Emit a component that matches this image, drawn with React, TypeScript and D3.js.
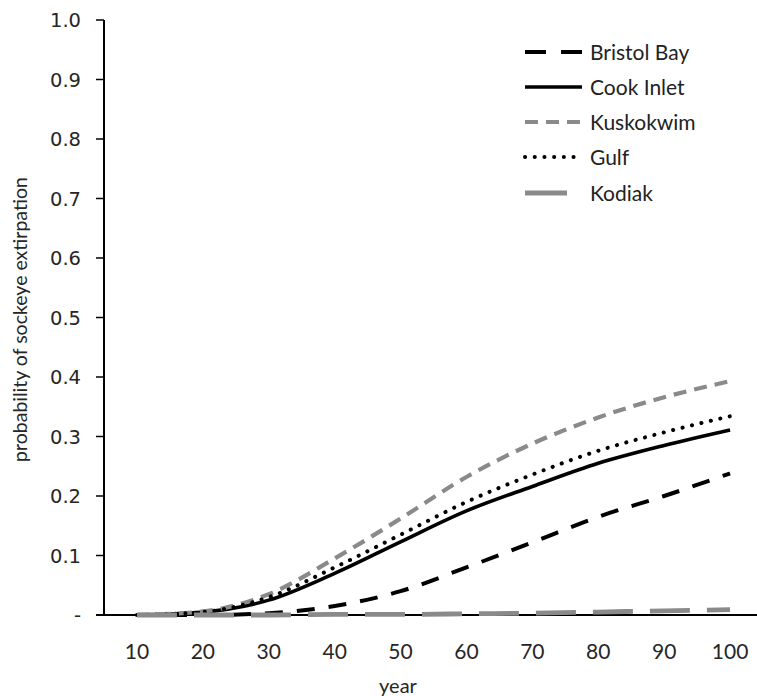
import React from "react";
import * as d3 from "d3";

const years = [10, 20, 30, 40, 50, 60, 70, 80, 90, 100];
const bristolBay = [0, 0, 0.003, 0.015, 0.04, 0.08, 0.122, 0.165, 0.2, 0.238];
const cookInlet = [0, 0.005, 0.025, 0.07, 0.123, 0.175, 0.216, 0.255, 0.285, 0.311];
const kuskokwim = [0, 0.006, 0.035, 0.095, 0.162, 0.232, 0.288, 0.332, 0.366, 0.393];
const gulf = [0, 0.005, 0.03, 0.08, 0.135, 0.19, 0.236, 0.276, 0.307, 0.334];
const kodiak = [0, 0, 0, 0.001, 0.001, 0.002, 0.003, 0.005, 0.007, 0.009];
const yTicks = [0, 0.1, 0.2, 0.3, 0.4, 0.5, 0.6, 0.7, 0.8, 0.9, 1.0];

const seriesNames = ["Bristol Bay", "Cook Inlet", "Kuskokwim", "Gulf", "Kodiak"];
const seriesValues = [bristolBay, cookInlet, kuskokwim, gulf, kodiak];
const styles = [
  { color: "#000", width: 4, dash: "18,14", cap: "butt" },
  { color: "#000", width: 3.6, dash: "", cap: "butt" },
  { color: "#8a8a8a", width: 4.2, dash: "13,8", cap: "butt" },
  { color: "#000", width: 4, dash: "0.1,9.6", cap: "round" },
  { color: "#8a8a8a", width: 4.8, dash: "40,17", cap: "butt" },
];

export default function App() {
  const W = 757, H = 696;
  const x0 = 104, x1 = 763, yTop = 20, yBot = 615;
  const x = d3.scaleBand<number>().domain(years).range([x0, x1]);
  const cx = (v: number) => (x(v) as number) + x.bandwidth() / 2;
  const y = d3.scaleLinear().domain([0, 1]).range([yBot, yTop]);
  const line = d3
    .line<number>()
    .x((_, i) => cx(years[i]))
    .y((d) => y(d))
    .curve(d3.curveMonotoneX);
  const sans = "Lato, 'Open Sans', sans-serif";
  const legendY = [52, 87, 122, 157, 193];
  return (
    <svg width={W} height={H} style={{ position: "absolute", left: 0, top: 0, background: "#fff" }}>
      <rect width={W} height={H} fill="#fff" />
      {/* y axis */}
      <line x1={x0} x2={x0} y1={yTop} y2={yBot} stroke="#000" strokeWidth={2} />
      {yTicks.map((t) => (
        <g key={t}>
          <line x1={x0 - 8} x2={x0} y1={y(t)} y2={y(t)} stroke="#000" strokeWidth={1.5} />
          <text
            x={81}
            y={y(t)}
            dy="0.36em"
            textAnchor="end"
            fontFamily="'DejaVu Sans', sans-serif"
            fontSize={19.5}
            fill="#262626"
          >
            {t === 0 ? "-" : t.toFixed(1)}
          </text>
        </g>
      ))}
      {/* x axis */}
      <line x1={x0 - 8} x2={W} y1={yBot} y2={yBot} stroke="#000" strokeWidth={2} />
      {years.map((yr) => (
        <text key={yr} x={cx(yr)} y={659} textAnchor="middle" fontFamily={sans} fontSize={21} fill="#262626">
          {yr}
        </text>
      ))}
      <text x={398} y={693} textAnchor="middle" fontFamily={sans} fontSize={20} fill="#262626">
        year
      </text>
      <text
        transform={`translate(27,${(yTop + yBot) / 2 + 2}) rotate(-90)`}
        textAnchor="middle"
        fontFamily={sans}
        fontSize={19.5}
        fill="#262626"
      >
        probability of sockeye extirpation
      </text>
      {/* series */}
      {seriesValues.map((vals, i) => (
        <path
          key={seriesNames[i]}
          d={line(vals) || ""}
          fill="none"
          stroke={styles[i].color}
          strokeWidth={styles[i].width}
          strokeDasharray={styles[i].dash || undefined}
          strokeLinecap={styles[i].cap as any}
        />
      ))}
      {/* legend */}
      {seriesNames.map((name, i) => (
        <g key={name}>
          <line
            x1={525}
            x2={i === 4 ? 567 : 582}
            y1={legendY[i]}
            y2={legendY[i]}
            stroke={styles[i].color}
            strokeWidth={styles[i].width}
            strokeDasharray={i === 4 ? undefined : styles[i].dash === "18,14" ? "21,15" : styles[i].dash || undefined}
            strokeLinecap={styles[i].cap as any}
          />
          <text x={590} y={legendY[i]} dy="0.36em" fontFamily={sans} fontSize={21} fill="#222">
            {name}
          </text>
        </g>
      ))}
    </svg>
  );
}
